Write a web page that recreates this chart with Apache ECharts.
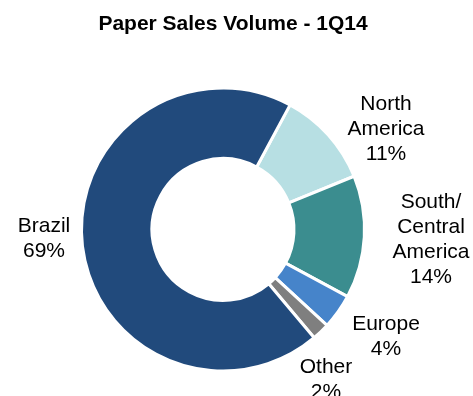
<!DOCTYPE html>
<html>
<head>
<meta charset="utf-8">
<script src="https://cdn.jsdelivr.net/npm/echarts@6/dist/echarts.min.js"></script>
<style>
html,body{margin:0;padding:0;background:#fff;}
#chart{width:473px;height:396px;}
</style>
</head>
<body>
<div id="chart"></div>
<script>
var categories = ['North\nAmerica', 'South/\nCentral\nAmerica', 'Europe', 'Other', 'Brazil'];
var values = [11, 14, 4, 2, 69];
var colors = ['#B7DFE3', '#3B8D8F', '#4684CA', '#7F7F7F', '#214A7C'];
var labelPos = [[386, 129], [431, 240], [386, 337], [326, 380], [44, 238.5]];

var chart = echarts.init(document.getElementById('chart'), null, {renderer: 'canvas'});
chart.setOption({
  animation: false,
  title: {
    text: 'Paper Sales Volume - 1Q14',
    left: 228, top: 9, textAlign: 'center',
    textStyle: {fontFamily: 'Liberation Sans, Arial', fontWeight: 'bold', fontSize: 21, color: '#000'}
  },
  series: [{
    type: 'pie',
    center: [223, 229.5],
    radius: [71, 141.5],
    startAngle: 61.7,
    clockwise: true,
    avoidLabelOverlap: false,
    itemStyle: {borderColor: '#fff', borderWidth: 3},
    label: {
      show: true,
      position: 'outside',
      alignTo: 'none',
      overflow: 'none',
      formatter: function (p) { return p.name + '\n' + Math.round(p.value) + '%'; },
      fontFamily: 'Liberation Sans, Arial',
      fontSize: 21,
      lineHeight: 25,
      color: '#000',
      align: 'center'
    },
    labelLine: {show: false},
    labelLayout: function (params) {
      var p = labelPos[params.dataIndex];
      return {x: p[0], y: p[1], align: 'center', verticalAlign: 'middle', hideOverlap: false};
    },
    emphasis: {disabled: true},
    data: categories.map(function (c, i) {
      return {name: c, value: values[i], itemStyle: {color: colors[i]}};
    })
  }]
});
</script>
</body>
</html>
